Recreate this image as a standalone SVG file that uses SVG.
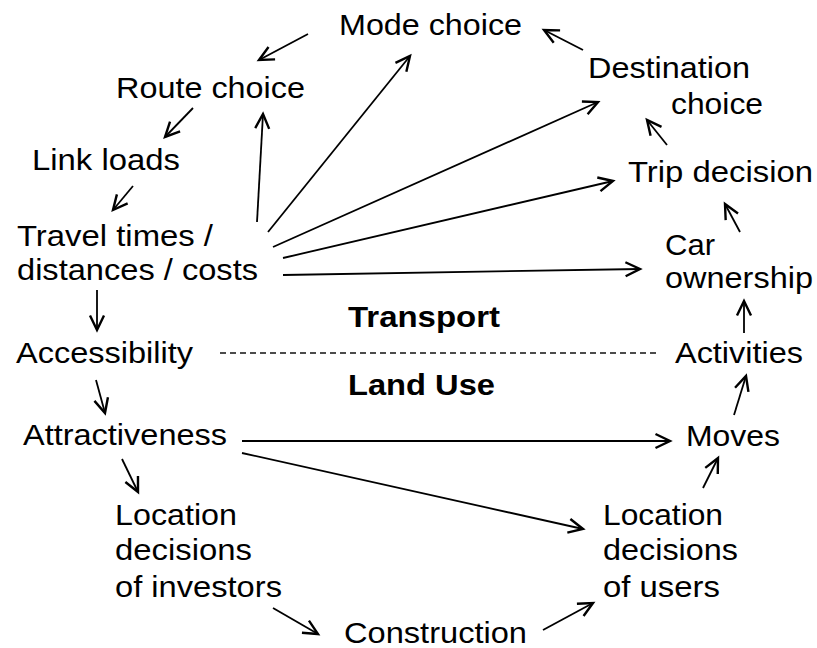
<svg xmlns="http://www.w3.org/2000/svg" width="817" height="648" viewBox="0 0 817 648">
<style>
text{font-family:"Liberation Sans",Arial,sans-serif;font-size:29px;fill:#000;}
.b{font-weight:bold;}
.c{stroke:#000;stroke-width:1.8;fill:none;marker-end:url(#ah);}
.d{stroke:#111;stroke-width:1.3;stroke-dasharray:6 4;fill:none;}
</style>
<defs>
<marker id="ah" markerUnits="userSpaceOnUse" viewBox="-16 -10 20 20" markerWidth="20" markerHeight="20" refX="0" refY="0" orient="auto">
<path d="M-14.5,-7 L0,0 L-14.5,7" stroke="#000" stroke-width="2.4" fill="none" stroke-linejoin="miter"/>
</marker>
</defs>
<rect width="817" height="648" fill="#fff"/>
<g id="connectors">
<line class="c" x1="308" y1="34" x2="259" y2="60"/>
<line class="c" x1="193" y1="108" x2="165" y2="137"/>
<line class="c" x1="133" y1="186" x2="113" y2="210"/>
<line class="c" x1="257" y1="222" x2="263" y2="114"/>
<line class="c" x1="268" y1="232" x2="410" y2="56"/>
<line class="c" x1="273" y1="247" x2="598" y2="102"/>
<line class="c" x1="283" y1="258" x2="613" y2="181"/>
<line class="c" x1="283" y1="275" x2="640" y2="269"/>
<line class="c" x1="583" y1="50" x2="544" y2="30"/>
<line class="c" x1="667" y1="145" x2="647" y2="120"/>
<line class="c" x1="740" y1="232" x2="725" y2="204"/>
<line class="c" x1="744" y1="333" x2="744" y2="301"/>
<line class="c" x1="734" y1="415" x2="746" y2="376"/>
<line class="c" x1="703" y1="488" x2="718" y2="458"/>
<line class="c" x1="242" y1="441" x2="670" y2="441"/>
<line class="c" x1="242" y1="453" x2="583" y2="529"/>
<line class="c" x1="543" y1="630" x2="593" y2="603"/>
<line class="c" x1="273" y1="608" x2="318" y2="634"/>
<line class="c" x1="122" y1="459" x2="138" y2="492"/>
<line class="c" x1="96" y1="380" x2="105" y2="413"/>
<line class="c" x1="97" y1="290" x2="97" y2="330"/>
<line class="d" x1="220" y1="353" x2="656" y2="353"/>
</g>
<g id="mode-choice"><text x="339" y="35" textLength="183" lengthAdjust="spacingAndGlyphs">Mode choice</text></g>
<g id="route-choice"><text x="116" y="98" textLength="189" lengthAdjust="spacingAndGlyphs">Route choice</text></g>
<g id="link-loads"><text x="32" y="170" textLength="148" lengthAdjust="spacingAndGlyphs">Link loads</text></g>
<g id="travel-times"><text x="17" y="246" textLength="196" lengthAdjust="spacingAndGlyphs">Travel times /</text><text x="17" y="280" textLength="241" lengthAdjust="spacingAndGlyphs">distances / costs</text></g>
<g id="accessibility"><text x="16" y="363" textLength="177" lengthAdjust="spacingAndGlyphs">Accessibility</text></g>
<g id="attractiveness"><text x="23" y="445" textLength="204" lengthAdjust="spacingAndGlyphs">Attractiveness</text></g>
<g id="location-investors"><text x="115" y="525" textLength="122" lengthAdjust="spacingAndGlyphs">Location</text><text x="115" y="560" textLength="137" lengthAdjust="spacingAndGlyphs">decisions</text><text x="115" y="597" textLength="167" lengthAdjust="spacingAndGlyphs">of investors</text></g>
<g id="construction"><text x="344" y="643" textLength="183" lengthAdjust="spacingAndGlyphs">Construction</text></g>
<g id="location-users"><text x="603" y="525" textLength="120" lengthAdjust="spacingAndGlyphs">Location</text><text x="603" y="560" textLength="135" lengthAdjust="spacingAndGlyphs">decisions</text><text x="603" y="597" textLength="117" lengthAdjust="spacingAndGlyphs">of users</text></g>
<g id="moves"><text x="686" y="446" textLength="94" lengthAdjust="spacingAndGlyphs">Moves</text></g>
<g id="activities"><text x="675" y="363" textLength="128" lengthAdjust="spacingAndGlyphs">Activities</text></g>
<g id="car-ownership"><text x="665" y="255" textLength="50" lengthAdjust="spacingAndGlyphs">Car</text><text x="665" y="288" textLength="148" lengthAdjust="spacingAndGlyphs">ownership</text></g>
<g id="trip-decision"><text x="628" y="182" textLength="185" lengthAdjust="spacingAndGlyphs">Trip decision</text></g>
<g id="destination-choice"><text x="588" y="78" textLength="162" lengthAdjust="spacingAndGlyphs">Destination</text><text x="671" y="114" textLength="92" lengthAdjust="spacingAndGlyphs">choice</text></g>
<g id="transport"><text class="b" x="348" y="327" textLength="152" lengthAdjust="spacingAndGlyphs">Transport</text></g>
<g id="land-use"><text class="b" x="348" y="395" textLength="147" lengthAdjust="spacingAndGlyphs">Land Use</text></g>
</svg>
